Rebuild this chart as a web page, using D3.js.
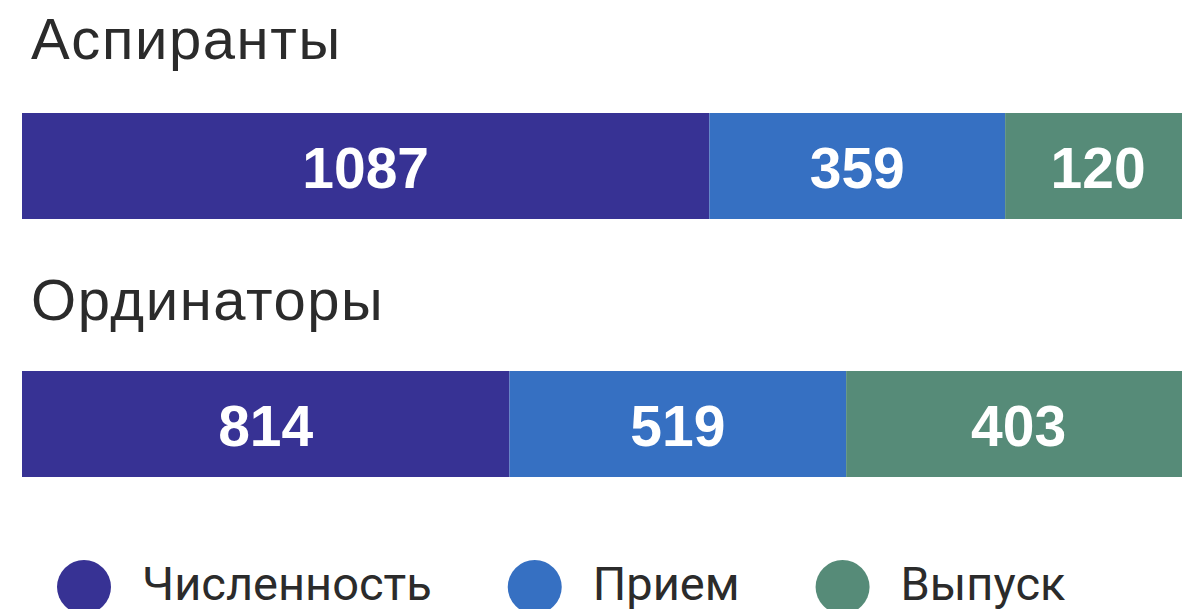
<!DOCTYPE html>
<html>
<head>
<meta charset="utf-8">
<script src="https://cdn.jsdelivr.net/npm/d3@7"></script>
<style>
  html, body { margin: 0; padding: 0; background: #fff; overflow: hidden; }
</style>
</head>
<body>
<svg id="chart" width="1182" height="609"></svg>
<script>
// rows and series
const rows = ["Аспиранты", "Ординаторы"];
const series = ["Численность", "Прием", "Выпуск"];
const colors = ["#373294", "#3670c2", "#568b78"];

// values printed on the segments
const aspirantsValues = [1087, 359, 120];
const residentsValues = [814, 519, 403];

// length of each segment as drawn, % of the row
const aspirantsShare = [58.8, 25.3, 15.9];
const residentsShare = [41.7, 28.8, 29.5];

const svg = d3.select("#chart");

// bars run a little past the right edge of the page
const x = d3.scaleLinear().domain([0, 100]).range([22, 1191]);
const y = d3.scalePoint().domain(rows).range([113, 371]);
const titleY = d3.scalePoint().domain(rows).range([59, 320]);
const barH = 106;

const table = rows.map((r, i) => {
  const vals = i === 0 ? aspirantsValues : residentsValues;
  const share = i === 0 ? aspirantsShare : residentsShare;
  const o = { row: r };
  series.forEach((s, j) => { o[s] = share[j]; o[s + "_v"] = vals[j]; });
  return o;
});

const stacked = d3.stack().keys(series)(table);

// row titles
svg.selectAll("text.title")
  .data(rows)
  .join("text")
  .attr("class", "title")
  .attr("x", 31)
  .attr("y", d => titleY(d))
  .attr("font-family", "Liberation Sans, Arial, sans-serif")
  .attr("font-size", 58)
  .attr("letter-spacing", 1.6)
  .attr("fill", "#2b2b2b")
  .text(d => d);

const layer = svg.selectAll("g.layer")
  .data(stacked)
  .join("g")
  .attr("class", "layer")
  .attr("fill", (d, i) => colors[i]);

layer.selectAll("rect")
  .data(d => d)
  .join("rect")
  .attr("x", d => x(d[0]))
  .attr("y", d => y(d.data.row))
  .attr("width", d => x(d[1]) - x(d[0]))
  .attr("height", barH);

layer.selectAll("text")
  .data(d => d.map(p => Object.assign(p, { key: d.key })))
  .join("text")
  .attr("x", d => (x(d[0]) + x(d[1])) / 2)
  .attr("y", d => y(d.data.row) + barH / 2 + 22)
  .attr("text-anchor", "middle")
  .attr("font-family", "Liberation Sans, Arial, sans-serif")
  .attr("font-weight", "bold")
  .attr("font-size", 57)
  .attr("fill", "#fff")
  .text(d => d.data[d.key + "_v"]);

// legend
const legend = svg.append("g");
let lx = 84;
series.forEach((s, i) => {
  legend.append("circle")
    .attr("cx", lx)
    .attr("cy", 587)
    .attr("r", 27)
    .attr("fill", colors[i]);
  const t = legend.append("text")
    .attr("x", lx + 58)
    .attr("y", 600)
    .attr("font-family", "Roboto, sans-serif")
    .attr("font-size", 47)
    .attr("fill", "#2b2b2b")
    .text(s);
  lx = lx + 58 + t.node().getComputedTextLength() + 103;
});
</script>
</body>
</html>
